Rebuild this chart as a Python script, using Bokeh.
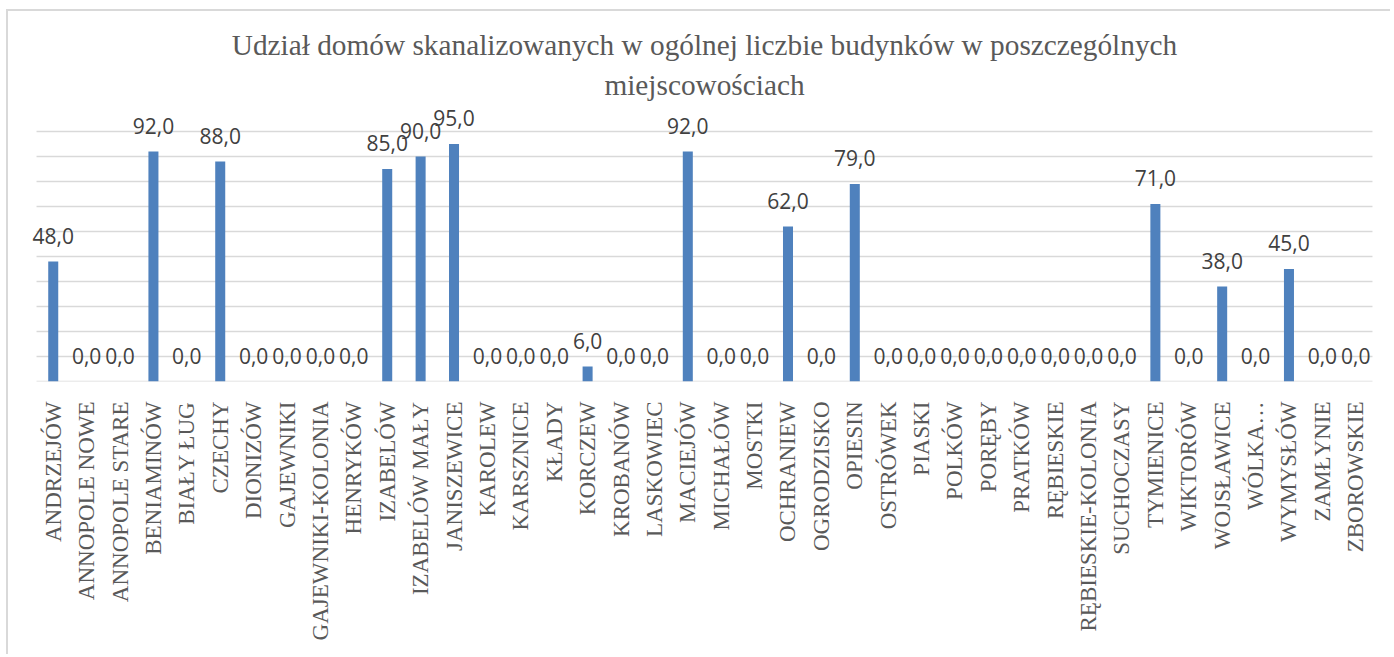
import math
from bokeh.plotting import figure
from bokeh.models import ColumnDataSource, FactorRange, Title, LabelSet
from bokeh.core.properties import value
from bokeh.embed import file_html
from bokeh.resources import INLINE

categories = [
    "ANDRZEJÓW", "ANNOPOLE NOWE", "ANNOPOLE STARE", "BENIAMINÓW", "BIAŁY ŁUG",
    "CZECHY", "DIONIZÓW", "GAJEWNIKI", "GAJEWNIKI-KOLONIA", "HENRYKÓW",
    "IZABELÓW", "IZABELÓW MAŁY", "JANISZEWICE", "KAROLEW", "KARSZNICE",
    "KŁADY", "KORCZEW", "KROBANÓW", "LASKOWIEC", "MACIEJÓW",
    "MICHAŁÓW", "MOSTKI", "OCHRANIEW", "OGRODZISKO", "OPIESIN",
    "OSTRÓWEK", "PIASKI", "POLKÓW", "PORĘBY", "PRATKÓW",
    "RĘBIESKIE", "RĘBIESKIE-KOLONIA", "SUCHOCZASY", "TYMIENICE", "WIKTORÓW",
    "WOJSŁAWICE", "WÓLKA…", "WYMYSŁÓW", "ZAMŁYNIE", "ZBOROWSKIE",
]
values = [
    48, 0, 0, 92, 0,
    88, 0, 0, 0, 0,
    85, 90, 95, 0, 0,
    0, 6, 0, 0, 92,
    0, 0, 62, 0, 79,
    0, 0, 0, 0, 0,
    0, 0, 0, 71, 0,
    38, 0, 45, 0, 0,
]
y_ticks = [0, 10, 20, 30, 40, 50, 60, 70, 80, 90, 100]
title_lines = ["Udział domów skanalizowanych w ogólnej liczbie budynków w poszczególnych",
               "miejscowościach"]

labels = [f"{v:.1f}".replace(".", ",") for v in values]
src = ColumnDataSource(dict(cat=categories, val=values, lab=labels))
grid_src = ColumnDataSource(dict(
    x0=[(categories[0], -0.5)] * len(y_ticks),
    x1=[(categories[-1], 0.5)] * len(y_ticks),
    y=y_ticks,
))

p = figure(
    x_range=FactorRange(*categories, range_padding=0.6, range_padding_units="absolute"),
    y_range=(0, 110),
    width=1384, height=645,
    output_backend="svg", toolbar_location=None,
    min_border_left=8, min_border_right=0,
    min_border_top=95, min_border_bottom=275,
)
p.styles = {"border-left": "2px solid #d9d9d9", "border-top": "2px solid #d9d9d9",
            "margin-left": "6px", "margin-top": "9px"}

p.title = None
p.add_layout(Title(text=title_lines[1], align="center",
                   text_font="Liberation Serif", text_font_size="29.3px",
                   text_font_style="normal", text_color="#595959", standoff=12), "above")
p.add_layout(Title(text=title_lines[0], align="center",
                   text_font="Liberation Serif", text_font_size="29.3px",
                   text_font_style="normal", text_color="#595959", standoff=0), "above")

p.segment(x0="x0", y0="y", x1="x1", y1="y", source=grid_src,
          line_color="#d9d9d9", line_width=1.5)
p.vbar(x="cat", top="val", width=0.3, source=src, color="#4F81BD", line_color=None)
p.add_layout(LabelSet(x="cat", y="val", text="lab", source=src, text_align="center",
                      text_baseline="alphabetic", y_offset=18,
                      text_font=value("Open Sans"), text_font_size=value("21px"),
                      text_color="#404040"))

p.outline_line_color = None
p.xgrid.grid_line_color = None
p.ygrid.grid_line_color = None
p.yaxis.visible = False

p.xaxis.axis_line_color = None
p.xaxis.major_tick_line_color = None
p.xaxis.minor_tick_line_color = None
p.xaxis.major_label_orientation = math.pi / 2
p.xaxis.major_label_standoff = 14
p.xaxis.major_label_text_font = "Liberation Serif"
p.xaxis.major_label_text_font_size = "23px"
p.xaxis.major_label_text_color = "#595959"

open("out.html", "w").write(file_html(p, INLINE))
